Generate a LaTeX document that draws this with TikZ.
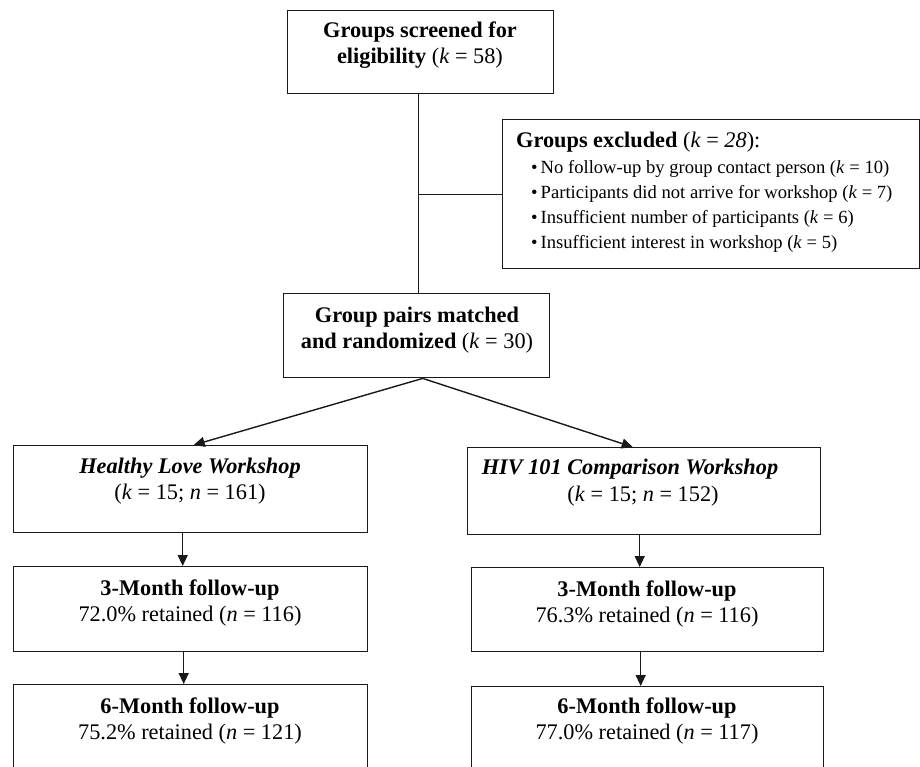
\documentclass[tikz,border=0pt]{standalone}
\usepackage{fontspec}
\setmainfont{Liberation Serif}
\usetikzlibrary{arrows.meta,calc}
\begin{document}
\begin{tikzpicture}[x=1pt,y=-1pt,
  box/.style={draw=black!90, line width=1.4pt, rectangle, inner sep=0pt, anchor=north west},
  txt/.style={inner sep=0pt, font=\fontsize{22.3}{26}\selectfont, anchor=base, text=black},
  small/.style={inner sep=0pt, font=\fontsize{18.6}{25}\selectfont, anchor=base west, text=black},
  ln/.style={line width=1.4pt, draw=black!90},
  arr/.style={ln, -{Triangle[length=11pt,width=10pt]}}]
\useasboundingbox (0,0) rectangle (920,766);
\clip (0,0) rectangle (920,766);
% boxes
\node[box, minimum width=266pt, minimum height=83pt] (top) at (287,10) {};
\node[box, minimum width=417pt, minimum height=149pt] (excl) at (502,119) {};
\node[box, minimum width=266pt, minimum height=84pt] (gp) at (283,293) {};
\node[box, minimum width=354pt, minimum height=87pt] (hl) at (13,445) {};
\node[box, minimum width=354pt, minimum height=85pt] (hlA) at (13,566) {};
\node[box, minimum width=354pt, minimum height=95pt] (hlB) at (13,684) {};
\node[box, minimum width=353pt, minimum height=87pt] (hiv) at (467,447) {};
\node[box, minimum width=352pt, minimum height=84pt] (hivA) at (471,567) {};
\node[box, minimum width=352pt, minimum height=95pt] (hivB) at (471,686) {};
% texts
\node[txt] (topt) at (420,37) {\begin{tabular}[t]{@{}c@{}}\textbf{Groups screened for}\\\textbf{eligibility} (\textit{k} = 58)\end{tabular}};
\node[txt, anchor=base west] (exclh) at (516,147) {\textbf{Groups excluded} (\textit{k} = \textit{28}):};
\node[small] (excll) at (531,173) {\begin{tabular}[t]{@{}l@{}}\textbullet\hspace{3pt}No follow-up by group contact person (\textit{k} = 10)\\
\textbullet\hspace{3pt}Participants did not arrive for workshop (\textit{k} = 7)\\
\textbullet\hspace{3pt}Insufficient number of participants (\textit{k} = 6)\\
\textbullet\hspace{3pt}Insufficient interest in workshop (\textit{k} = 5)\end{tabular}};
\node[txt] (gpt) at (417,322) {\begin{tabular}[t]{@{}c@{}}\textbf{Group pairs matched}\\\textbf{and randomized} (\textit{k} = 30)\end{tabular}};
\node[txt] (hlt) at (190,473) {\begin{tabular}[t]{@{}c@{}}\textbf{\textit{Healthy Love Workshop}}\\(\textit{k} = 15; \textit{n} = 161)\end{tabular}};
\node[txt] (hlAt) at (190,595) {\begin{tabular}[t]{@{}c@{}}\textbf{3-Month follow-up}\\72.0\% retained (\textit{n} = 116)\end{tabular}};
\node[txt] (hlBt) at (190,713) {\begin{tabular}[t]{@{}c@{}}\textbf{6-Month follow-up}\\75.2\% retained (\textit{n} = 121)\end{tabular}};
\node[txt] (hivt) at (630,474) {\textbf{\textit{HIV 101 Comparison Workshop}}};
\node[txt] (hivu) at (643,501) {(\textit{k} = 15; \textit{n} = 152)};
\node[txt] (hivAt) at (647,596) {\begin{tabular}[t]{@{}c@{}}\textbf{3-Month follow-up}\\76.3\% retained (\textit{n} = 116)\end{tabular}};
\node[txt] (hivBt) at (647,713) {\begin{tabular}[t]{@{}c@{}}\textbf{6-Month follow-up}\\77.0\% retained (\textit{n} = 117)\end{tabular}};
% connectors
\coordinate (vx) at ($(top.south)+(-2,0)$);
\draw[ln] (vx) -- (vx |- gp.north);
\draw[ln] (vx |- excl.west) -- (excl.west);
\coordinate (split) at ($(gp.south)+(6,0)$);
\draw[arr] (split) -- ($(hl.north)+(3,0)$);
\draw[arr] (split) -- ($(hiv.north)+(-11.5,0)$);
\coordinate (a1) at ($(hl.south)+(-8,0)$);
\draw[arr] (a1) -- (a1 |- hlA.north);
\coordinate (a2) at ($(hlA.south)+(-7,0)$);
\draw[arr] (a2) -- (a2 |- hlB.north);
\coordinate (a3) at ($(hiv.south)+(-4.5,0)$);
\draw[arr] (a3) -- (a3 |- hivA.north);
\coordinate (a4) at ($(hivA.south)+(-7,0)$);
\draw[arr] (a4) -- (a4 |- hivB.north);
\end{tikzpicture}
\end{document}
